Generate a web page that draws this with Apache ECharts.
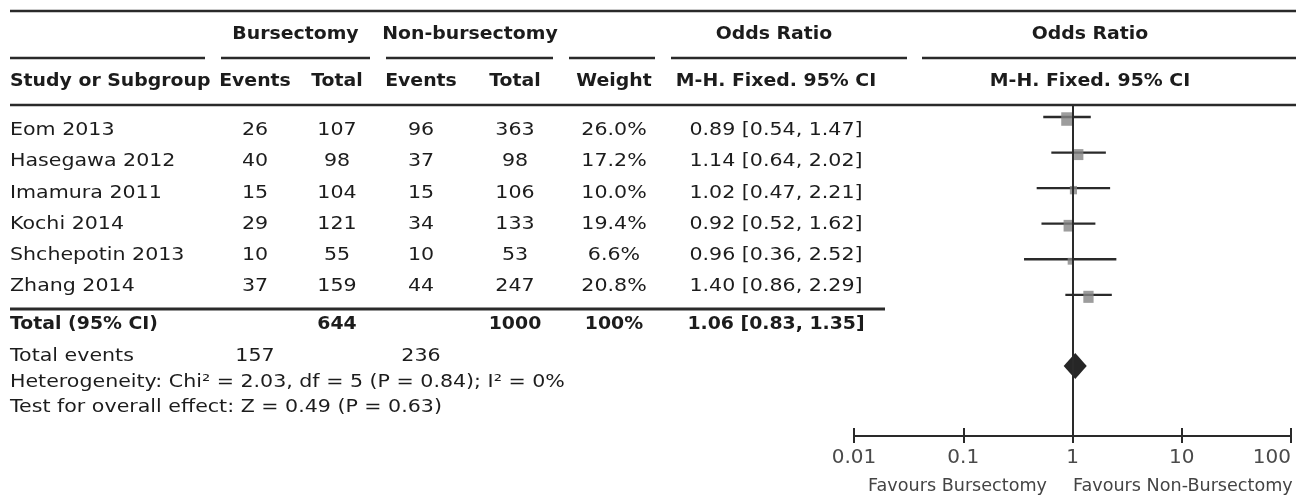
<!DOCTYPE html>
<html>
<head>
<meta charset="utf-8">
<script src="https://cdn.jsdelivr.net/npm/echarts@6/dist/echarts.min.js"></script>
<style>html,body{margin:0;padding:0;background:#fff}#c{width:1296px;height:498px}</style>
</head>
<body>
<div id="c"></div>
<script>
// ---------------- data ----------------
const studies = ['Eom 2013', 'Hasegawa 2012', 'Imamura 2011', 'Kochi 2014', 'Shchepotin 2013', 'Zhang 2014'];
const bursEvents = [26, 40, 15, 29, 10, 37];
const bursTotal = [107, 98, 104, 121, 55, 159];
const nonEvents = [96, 37, 15, 34, 10, 44];
const nonTotal = [363, 98, 106, 133, 53, 247];
const weights = [26.0, 17.2, 10.0, 19.4, 6.6, 20.8];
const oddsRatio = [0.89, 1.14, 1.02, 0.92, 0.96, 1.40];
const ciLow = [0.54, 0.64, 0.47, 0.52, 0.36, 0.86];
const ciHigh = [1.47, 2.02, 2.21, 1.62, 2.52, 2.29];

const totalLabel = 'Total (95% CI)';
const totalBurs = 644;
const totalNon = 1000;
const totalWeight = '100%';
const pooledOR = 1.06;
const pooledLow = 0.83;
const pooledHigh = 1.35;
const totalEventsBurs = 157;
const totalEventsNon = 236;
const heterogeneityText = 'Heterogeneity: Chi\u00B2 = 2.03, df = 5 (P = 0.84); I\u00B2 = 0%';
const overallEffectText = 'Test for overall effect: Z = 0.49 (P = 0.63)';

const groupHeaders = ['Bursectomy', 'Non-bursectomy', 'Odds Ratio', 'Odds Ratio'];
const columnHeaders = ['Study or Subgroup', 'Events', 'Total', 'Events', 'Total', 'Weight', 'M-H. Fixed. 95% CI', 'M-H. Fixed. 95% CI'];
const xTickValues = [0.01, 0.1, 1, 10, 100];
const favoursLeft = 'Favours Bursectomy';
const favoursRight = 'Favours Non-Bursectomy';

// ---------------- layout / style ----------------
const FONT = '"DejaVu Sans", sans-serif';
const FS = 17;
const TXT = '#1c1c1c';
const LINE = '#2a2a2a';
const REG_SX = 1.21, BOLD_SX = 1.11;
const colX = [10, 255, 337, 421, 515, 614, 776, 1090];
const colAlign = ['left', 'center', 'center', 'center', 'center', 'center', 'center', 'center'];
const groupX = [295.5, 470, 774, 1090];
const rowY0 = 130.5, rowStep = 31.3;

function t(text, x, y, bold, align, opts) {
  opts = opts || {};
  const size = opts.size || FS;
  return {
    type: 'text', x: x, y: y,
    scaleX: opts.sx || (bold ? BOLD_SX : REG_SX), scaleY: 1,
    silent: true, z: 10,
    style: {
      text: String(text),
      font: (bold ? 'bold ' : '') + size + 'px ' + FONT,
      fill: opts.color || TXT,
      textAlign: align, align: align,
      textVerticalAlign: 'middle', verticalAlign: 'middle'
    }
  };
}
function hline(x1, x2, y, w) {
  return { type: 'line', silent: true, z: 5,
    shape: { x1: x1, y1: y, x2: x2, y2: y },
    style: { stroke: LINE, lineWidth: w || 2.5 } };
}

const graphics = [];
// header rules
graphics.push(hline(10, 1296, 11));
[[10, 205], [221, 370], [386, 553], [569, 655], [671, 907], [922, 1296]].forEach(s => graphics.push(hline(s[0], s[1], 58)));
graphics.push(hline(10, 1296, 105));
graphics.push(hline(10, 885, 309, 3));
// header texts
groupHeaders.forEach((h, i) => graphics.push(t(h, groupX[i], 35, true, 'center')));
columnHeaders.forEach((h, i) => graphics.push(t(h, colX[i], 82, true, colAlign[i])));
// totals
const yTot = 325, yEv = 357, yHet = 383, yTest = 408;
graphics.push(t(totalLabel, colX[0], yTot, true, 'left'));
graphics.push(t(totalBurs, colX[2], yTot, true, 'center'));
graphics.push(t(totalNon, colX[4], yTot, true, 'center'));
graphics.push(t(totalWeight, colX[5], yTot, true, 'center'));
graphics.push(t(pooledOR.toFixed(2) + ' [' + pooledLow.toFixed(2) + ', ' + pooledHigh.toFixed(2) + ']', colX[6], yTot, true, 'center'));
graphics.push(t('Total events', colX[0], yEv, false, 'left'));
graphics.push(t(totalEventsBurs, colX[1], yEv, false, 'center'));
graphics.push(t(totalEventsNon, colX[3], yEv, false, 'center'));
graphics.push(t(heterogeneityText, colX[0], yHet, false, 'left'));
graphics.push(t(overallEffectText, colX[0], yTest, false, 'left'));
// favours
graphics.push(t(favoursLeft, 1047, 487, false, 'right', { color: '#444', sx: 1.035 }));
graphics.push(t(favoursRight, 1073, 487, false, 'left', { color: '#444', sx: 1.035 }));

// forest plot vertical mapping: row i -> 117 + 35.57*i (grid top 106, height 330)
const plotTop = 106, plotBottom = 436;
const yMin = -0.31, yMax = 8.97;
const pooledRow = 7;

const fmt = v => parseFloat(Number(v).toPrecision(6)).toString();

const option = {
  animation: false,
  backgroundColor: '#fff',
  grid: [
    { left: 854, right: 5, top: plotTop, height: plotBottom - plotTop },
    { left: 0, right: 0, top: rowY0 - rowStep / 2, height: rowStep * studies.length }
  ],
  xAxis: [
    {
      gridIndex: 0, type: 'log', logBase: 10, min: 0.01, max: 100, position: 'bottom',
      axisLine: { show: true, onZero: false, lineStyle: { color: LINE, width: 2 } },
      axisTick: { show: true, inside: false, length: 7, lineStyle: { color: LINE, width: 2 } },
      minorTick: { show: false },
      splitLine: { show: false },
      axisLabel: {
        show: true, margin: 12, fontSize: 20, fontFamily: FONT, color: '#4a4a4a',
        formatter: fmt, alignMaxLabel: 'right'
      }
    },
    {
      gridIndex: 0, type: 'log', logBase: 10, min: 0.01, max: 100, position: 'bottom', offset: 0,
      axisLine: { show: false, onZero: false },
      axisTick: { show: true, inside: true, length: 8, lineStyle: { color: LINE, width: 2 } },
      splitLine: { show: false },
      axisLabel: { show: false }
    },
    { gridIndex: 1, type: 'value', min: 0, max: 1, show: false }
  ],
  yAxis: [
    { gridIndex: 0, type: 'value', inverse: true, min: yMin, max: yMax, show: false },
    { gridIndex: 1, type: 'category', inverse: true, data: studies, show: false }
  ],
  graphic: graphics,
  series: [
    {
      // confidence intervals
      type: 'custom', xAxisIndex: 0, yAxisIndex: 0, z: 2, silent: true,
      data: studies.map((s, i) => [ciLow[i], ciHigh[i], i]),
      encode: { x: [0, 1], y: 2 },
      renderItem: function (params, api) {
        const a = api.coord([api.value(0), api.value(2)]);
        const b = api.coord([api.value(1), api.value(2)]);
        return { type: 'line', shape: { x1: a[0], y1: a[1], x2: b[0], y2: b[1] },
          style: { stroke: '#2a2a2a', lineWidth: 2.3 } };
      },
      markLine: {
        silent: true, symbol: ['none', 'none'], label: { show: false },
        lineStyle: { color: LINE, width: 2, type: 'solid' },
        data: [{ xAxis: 1 }]
      }
    },
    {
      // study estimates (weighted squares)
      type: 'scatter', xAxisIndex: 0, yAxisIndex: 0, z: 3, silent: true,
      symbol: 'rect',
      symbolOffset: [0, 2],
      data: studies.map((s, i) => [oddsRatio[i], i, weights[i]]),
      symbolSize: function (v) { const h = 13.5 * Math.sqrt(v[2] / 26); return [h * 0.85, h]; },
      itemStyle: { color: '#848484' }
    },
    {
      // pooled diamond
      type: 'custom', xAxisIndex: 0, yAxisIndex: 0, z: 4, silent: true,
      data: [[pooledLow, pooledHigh, pooledOR, pooledRow]],
      encode: { x: [0, 1, 2], y: 3 },
      renderItem: function (params, api) {
        const l = api.coord([api.value(0), api.value(3)]);
        const r = api.coord([api.value(1), api.value(3)]);
        const c = api.coord([api.value(2), api.value(3)]);
        const h = 13;
        return { type: 'polygon',
          shape: { points: [[l[0], l[1]], [c[0], c[1] - h], [r[0], r[1]], [c[0], c[1] + h]] },
          style: { fill: '#262626' } };
      }
    },
    {
      // table rows
      type: 'custom', xAxisIndex: 2, yAxisIndex: 1, silent: true,
      data: studies.map((s, i) => [0, i]),
      encode: { x: 0, y: 1 },
      renderItem: function (params, api) {
        const i = params.dataIndex;
        const y = api.coord([0, i])[1];
        const cells = [studies[i], bursEvents[i], bursTotal[i], nonEvents[i], nonTotal[i],
          weights[i].toFixed(1) + '%',
          oddsRatio[i].toFixed(2) + ' [' + ciLow[i].toFixed(2) + ', ' + ciHigh[i].toFixed(2) + ']'];
        return { type: 'group', children: cells.map((c, k) => t(c, colX[k], y, false, colAlign[k])) };
      }
    }
  ]
};

const chart = echarts.init(document.getElementById('c'), null, { renderer: 'canvas' });
chart.setOption(option);
</script>
</body>
</html>
